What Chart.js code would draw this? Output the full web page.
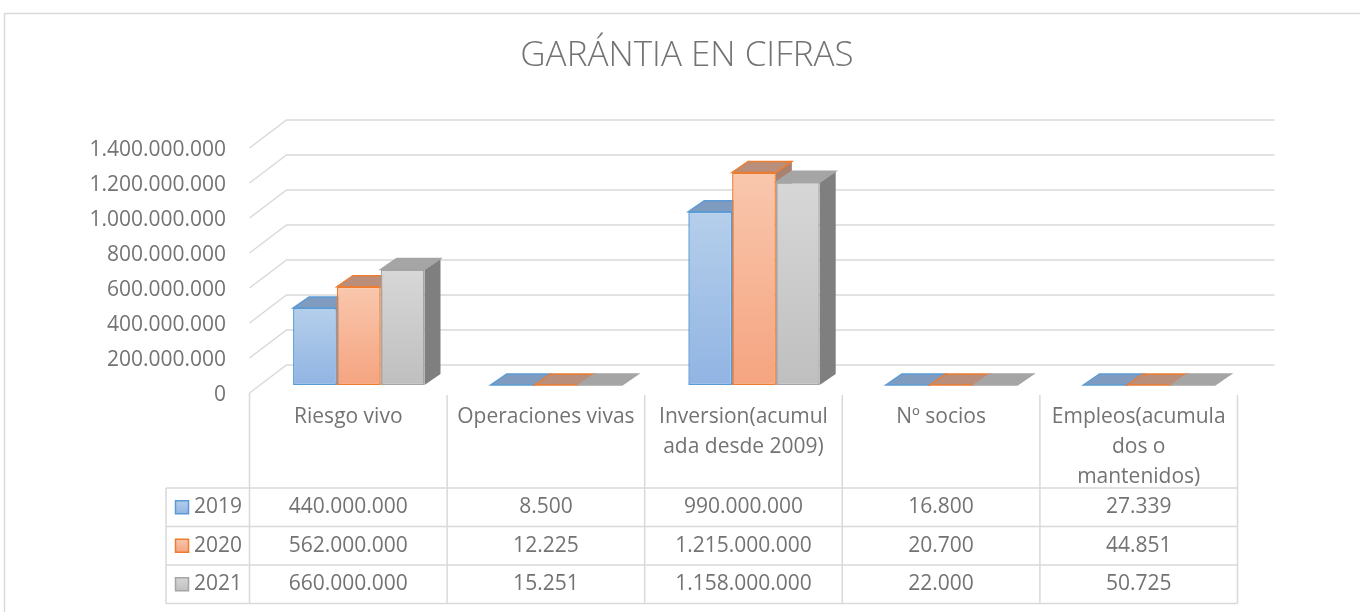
<!DOCTYPE html>
<html>
<head>
<meta charset="utf-8">
<script src="https://cdn.jsdelivr.net/npm/chart.js@4.4.1/dist/chart.umd.min.js"></script>
<style>
  html, body { margin: 0; padding: 0; background: #fff; }
  #wrap { width: 1360px; height: 612px; position: relative; }
</style>
</head>
<body>
<div id="wrap"><canvas id="chart" width="1360" height="612"></canvas></div>
<script>
// GARÁNTIA EN CIFRAS - 3D column chart with data table

const chartTitle = 'GARÁNTIA EN CIFRAS';
const categories = [
    ['Riesgo vivo'],
    ['Operaciones vivas'],
    ['Inversion(acumul', 'ada desde 2009)'],
    ['Nº socios'],
    ['Empleos(acumula', 'dos o', 'mantenidos)']
];
const years = ['2019', '2020', '2021'];
const values2019 = [440000000, 8500, 990000000, 16800, 27339];
const values2020 = [562000000, 12225, 1215000000, 20700, 44851];
const values2021 = [660000000, 15251, 1158000000, 22000, 50725];
const yTicks = [0, 200000000, 400000000, 600000000, 800000000, 1000000000, 1200000000, 1400000000];

const FONT = '"Open Sans", "Noto Sans", sans-serif';
const TEXT = '#737373';
const LINE = '#d9d9d9';

// colours per series: gradient top/bottom, outline, top face, side face
const palette = [
    { top: '#b5cfeb', bottom: '#91b4e3', border: '#5b9bd5', roof: '#7f9bbf', side: '#7090b8' },
    { top: '#f9c7ad', bottom: '#f5a480', border: '#ed7d31', roof: '#b98e7a', side: '#a8826f' },
    { top: '#d7d7d7', bottom: '#bfbfbf', border: '#a5a5a5', roof: '#a5a5a5', side: '#7f7f7f' }
];

// offsets of the 3D look
const FRONT = { dx: -10.5, dy: 8 };   // front edge of the floor
const BACK = { dx: 26.5, dy: -20 };   // back wall
const DEPTH = { dx: 16, dy: -11 };    // depth of one column
const ROW_H = 38.5;

function fmt(n) {
    return String(n).replace(/\B(?=(\d{3})+(?!\d))/g, '.');
}

function gradientFor(i) {
    return (ctx) => {
        const c = ctx.chart;
        const p = palette[i];
        if (!c.chartArea || !c.scales.y) return p.bottom;
        const y = c.scales.y;
        const top = y.getPixelForValue(ctx.raw);
        const base = y.getPixelForValue(0);
        if (base - top < 2) return p.top;
        const g = c.ctx.createLinearGradient(0, top, 0, base);
        g.addColorStop(0, p.top);
        g.addColorStop(1, p.bottom);
        return g;
    };
}

function poly(ctx, pts, fill, stroke) {
    ctx.beginPath();
    ctx.moveTo(pts[0][0], pts[0][1]);
    for (let i = 1; i < pts.length; i++) ctx.lineTo(pts[i][0], pts[i][1]);
    ctx.closePath();
    ctx.fillStyle = fill;
    ctx.fill();
    if (stroke) {
        ctx.strokeStyle = stroke;
        ctx.lineWidth = 1.5;
        ctx.stroke();
    }
}

const framePlugin = {
    id: 'frame',
    beforeDraw(chart) {
        const ctx = chart.ctx;
        ctx.save();
        ctx.strokeStyle = LINE;
        ctx.lineWidth = 1.5;
        ctx.beginPath();
        ctx.moveTo(4.5, 612);
        ctx.lineTo(4.5, 13.5);
        ctx.lineTo(1360, 13.5);
        ctx.stroke();

        ctx.fillStyle = TEXT;
        ctx.font = '300 35px ' + FONT;
        ctx.textAlign = 'center';
        ctx.textBaseline = 'middle';
        ctx.fillText(chartTitle, 687, 56);
        ctx.restore();
    },
    beforeDatasetsDraw(chart) {
        const ctx = chart.ctx;
        const y = chart.scales.y;
        const area = chart.chartArea;
        ctx.save();
        ctx.strokeStyle = LINE;
        ctx.lineWidth = 1.5;
        // side wall diagonals and back wall gridlines
        yTicks.forEach((v) => {
            const py = y.getPixelForValue(v);
            ctx.beginPath();
            ctx.moveTo(area.left + FRONT.dx, py + FRONT.dy);
            ctx.lineTo(area.left + BACK.dx, py + BACK.dy);
            ctx.lineTo(area.right + BACK.dx, py + BACK.dy);
            ctx.stroke();
        });

        // top and side faces of the columns
        const metas = chart.data.datasets.map((d, i) => chart.getDatasetMeta(i));
        categories.forEach((c, j) => {
            metas.forEach((meta, i) => {
                const p = palette[i];
                const bar = meta.data[j].getProps(['x', 'y', 'base', 'width'], true);
                const l = bar.x - bar.width / 2;
                const r = bar.x + bar.width / 2;
                const t = Math.min(bar.y, bar.base);
                const b = bar.base;
                poly(ctx, [[r, t], [r + DEPTH.dx, t + DEPTH.dy], [r + DEPTH.dx, b + DEPTH.dy], [r, b]], p.side, null);
                poly(ctx, [[l, t], [r, t], [r + DEPTH.dx, t + DEPTH.dy], [l + DEPTH.dx, t + DEPTH.dy]], p.roof, p.border);
            });
        });
        ctx.restore();
    },
    afterDraw(chart) {
        const ctx = chart.ctx;
        const y = chart.scales.y;
        const area = chart.chartArea;
        const colW = (area.right - area.left) / categories.length;
        const x0 = area.left + FRONT.dx;
        const top = y.getPixelForValue(0) + FRONT.dy;
        const rowTop = 488;
        const legendLeft = 166;
        const right = x0 + colW * categories.length;
        const series = [values2019, values2020, values2021];

        ctx.save();
        ctx.strokeStyle = LINE;
        ctx.lineWidth = 1.5;
        ctx.beginPath();
        // column lines
        for (let i = 0; i <= categories.length; i++) {
            const x = x0 + colW * i;
            ctx.moveTo(x, i === 0 ? top : top + 2);
            ctx.lineTo(x, rowTop + ROW_H * years.length);
        }
        // row lines
        for (let r = 0; r <= years.length; r++) {
            const yy = rowTop + ROW_H * r;
            ctx.moveTo(legendLeft, yy);
            ctx.lineTo(right, yy);
        }
        ctx.moveTo(legendLeft, rowTop);
        ctx.lineTo(legendLeft, rowTop + ROW_H * years.length);
        ctx.stroke();

        ctx.fillStyle = TEXT;
        ctx.font = '21px ' + FONT;
        ctx.textBaseline = 'middle';
        ctx.textAlign = 'center';
        // category header
        categories.forEach((lines, j) => {
            const cx = x0 + colW * (j + 0.5);
            lines.forEach((ln, k) => ctx.fillText(ln, cx, top + 24 + k * 30));
        });
        // values
        series.forEach((vals, r) => {
            const cy = rowTop + ROW_H * (r + 0.5);
            vals.forEach((v, j) => ctx.fillText(fmt(v), x0 + colW * (j + 0.5), cy));
        });
        // legend keys
        years.forEach((yr, r) => {
            const cy = rowTop + ROW_H * (r + 0.5);
            const p = palette[r];
            const g = ctx.createLinearGradient(0, cy - 7, 0, cy + 7);
            g.addColorStop(0, p.top);
            g.addColorStop(1, p.bottom);
            ctx.fillStyle = g;
            ctx.fillRect(175.5, cy - 6.5, 13, 13);
            ctx.strokeStyle = p.border;
            ctx.lineWidth = 1.5;
            ctx.strokeRect(175.5, cy - 6.5, 13, 13);
            ctx.fillStyle = TEXT;
            ctx.textAlign = 'left';
            ctx.fillText(yr, 194, cy);
        });
        ctx.restore();
    }
};

const datasets = [values2019, values2020, values2021].map((vals, i) => ({
    label: years[i],
    data: vals,
    backgroundColor: gradientFor(i),
    borderColor: palette[i].border,
    borderWidth: 1.5,
    borderSkipped: false,
    categoryPercentage: 0.665,
    barPercentage: 1
}));

new Chart(document.getElementById('chart'), {
    type: 'bar',
    data: { labels: categories, datasets: datasets },
    options: {
        responsive: false,
        animation: false,
        events: [],
        layout: { padding: { top: 140, bottom: 227, right: 112, left: 0 } },
        plugins: {
            legend: { display: false },
            title: { display: false },
            tooltip: { enabled: false }
        },
        scales: {
            x: { display: false },
            y: {
                min: 0,
                max: 1400000000,
                afterFit: (scale) => { scale.width = 260; },
                afterBuildTicks: (scale) => { scale.ticks = yTicks.map((v) => ({ value: v })); },
                grid: { display: false, drawTicks: false },
                border: { display: false },
                ticks: {
                    color: TEXT,
                    padding: 34,
                    labelOffset: 10,
                    font: { family: FONT, size: 21 },
                    callback: (v) => fmt(v)
                }
            }
        }
    },
    plugins: [framePlugin]
});
</script>
</body>
</html>
